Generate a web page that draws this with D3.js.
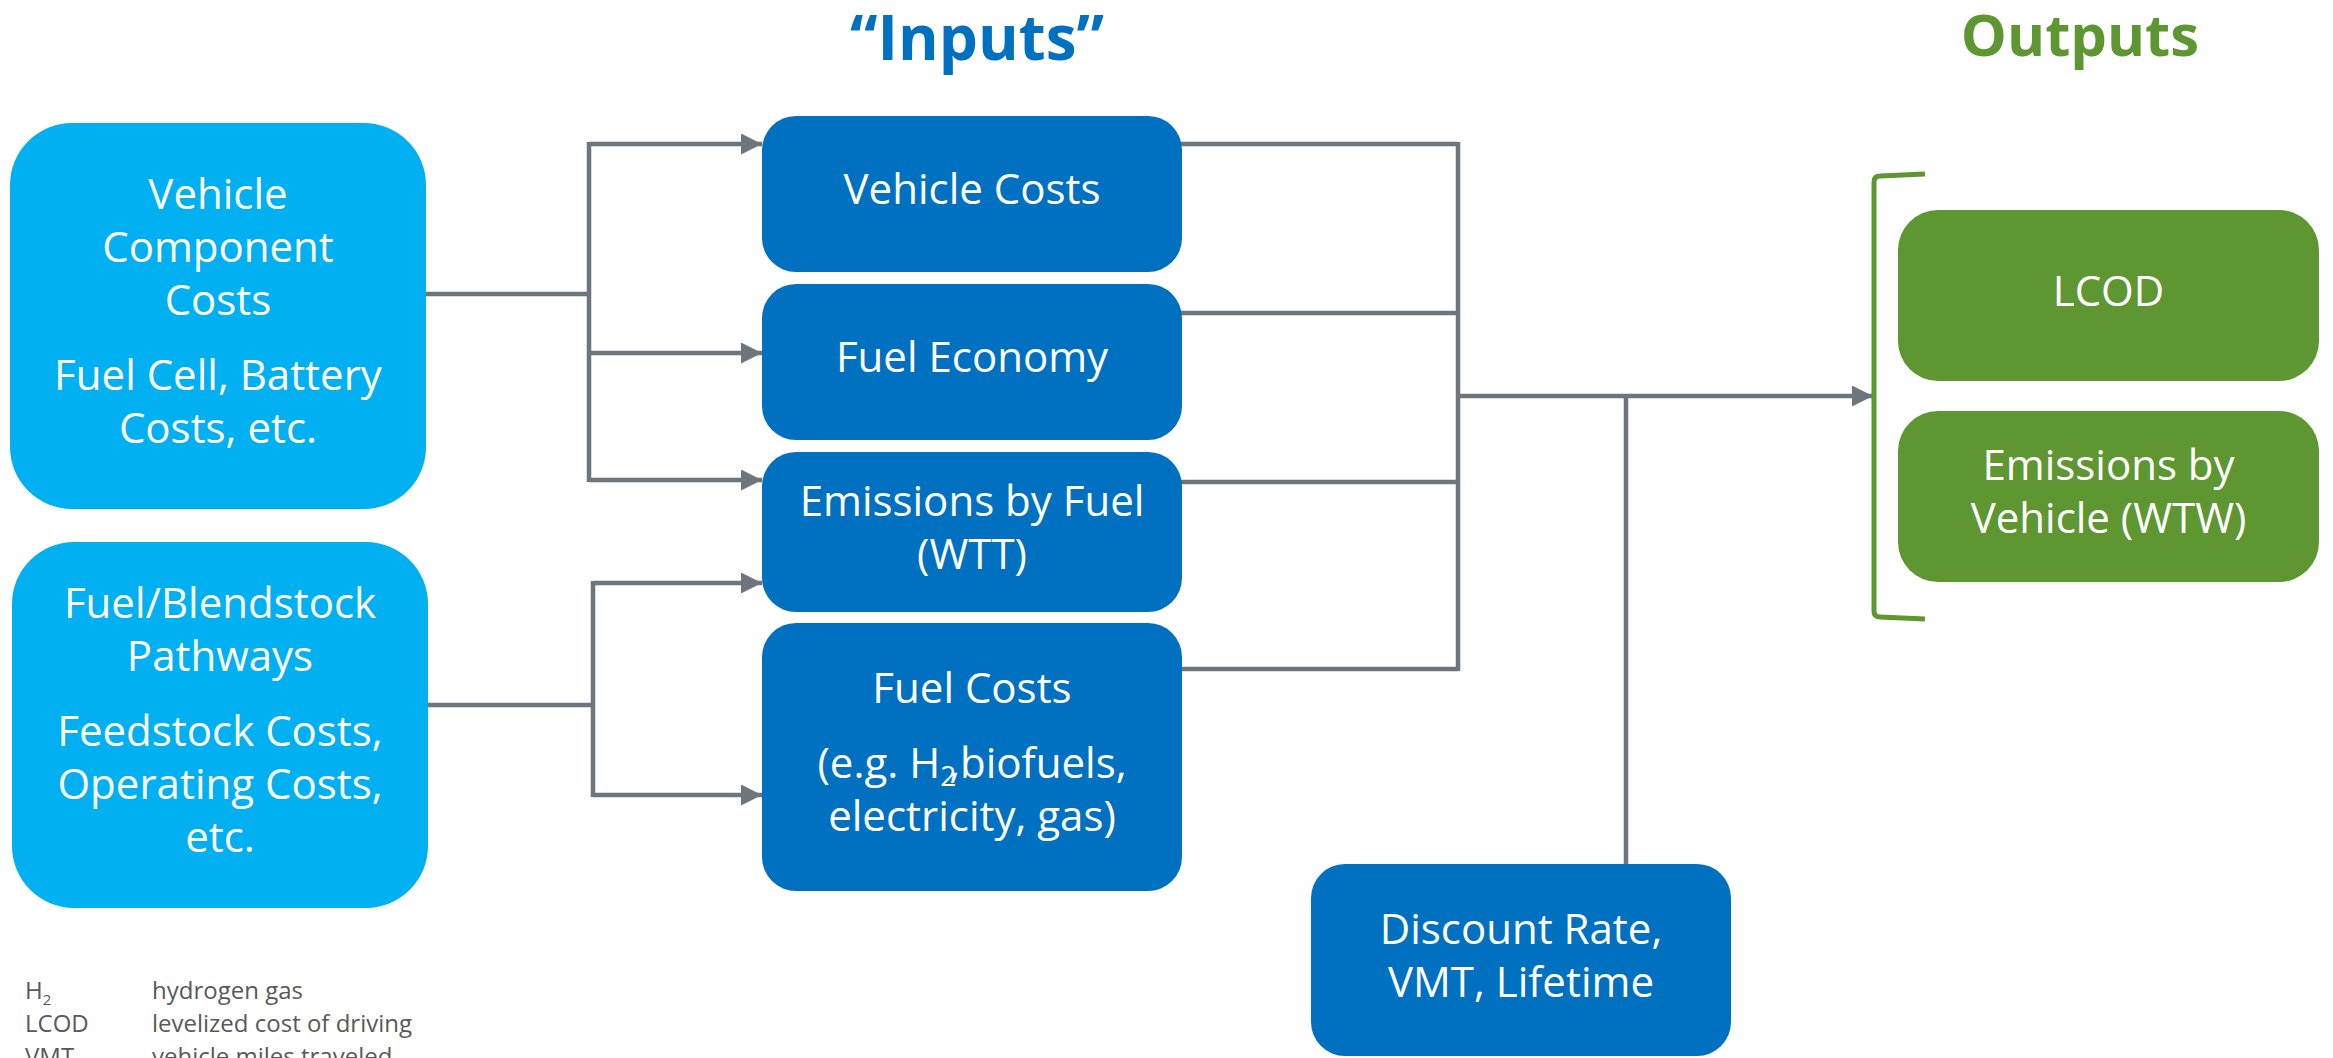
<!DOCTYPE html>
<html>
<head>
<meta charset="utf-8">
<script src="https://cdn.jsdelivr.net/npm/d3@7"></script>
<style>
  html, body { margin: 0; padding: 0; background: #fff; }
  svg { display: block; font-family: "Open Sans", sans-serif; }
</style>
</head>
<body>
<div id="chart"></div>
<script>
// Content of the diagram
const titles = ["\u201CInputs\u201D", "Outputs"];

// each box: paragraphs of lines
const sourceBoxes = [
    { id: "vehicle", paras: [["Vehicle", "Component", "Costs"], ["Fuel Cell, Battery", "Costs, etc."]] },
    { id: "fuel", paras: [["Fuel/Blendstock", "Pathways"], ["Feedstock Costs,", "Operating Costs,", "etc."]] }
];

const inputBoxes = [
    { id: "vcost", paras: [["Vehicle Costs"]] },
    { id: "econ", paras: [["Fuel Economy"]] },
    { id: "wtt", paras: [["Emissions by Fuel", "(WTT)"]] },
    { id: "fcost", paras: [["Fuel Costs"], ["(e.g. H\u2082, biofuels,", "electricity, gas)"]] }
];

const extraBoxes = [
    { id: "disc", paras: [["Discount Rate,", "VMT, Lifetime"]] }
];

const outputBoxes = [
    { id: "lcod", paras: [["LCOD"]] },
    { id: "wtw", paras: [["Emissions by", "Vehicle (WTW)"]] }
];

// which source feeds which input
const sourceLinks = [
    { source: "vehicle", targets: ["vcost", "econ", "wtt"] },
    { source: "fuel", targets: ["wtt", "fcost"] }
];

const abbreviations = ["H\u2082", "LCOD", "VMT"];
const definitions = ["hydrogen gas", "levelized cost of driving", "vehicle miles traveled"];

// Layout
const width = 2333, height = 1058;
const colors = {
    light: "#00B0F0",
    dark: "#0070C0",
    green: "#5E9732",
    line: "#6E757D",
    legend: "#595959"
};

const layout = {
    vehicle: { x: 10, y: 123, w: 416, h: 386, r: 62 },
    fuel: { x: 12, y: 542, w: 416, h: 366, r: 62 },
    vcost: { x: 762, y: 116, w: 420, h: 156, r: 34 },
    econ: { x: 762, y: 284, w: 420, h: 156, r: 34 },
    wtt: { x: 762, y: 452, w: 420, h: 160, r: 34 },
    fcost: { x: 762, y: 623, w: 420, h: 268, r: 34 },
    disc: { x: 1311, y: 864, w: 420, h: 192, r: 34 },
    lcod: { x: 1898, y: 210, w: 421, h: 171, r: 40 },
    wtw: { x: 1898, y: 411, w: 421, h: 171, r: 40 }
};

// where the connector lines hit each box (y)
const inArrowY = { vehicle: 294, fuel: 705, vcost: [144], econ: [353], wtt: [480, 583], fcost: [795] };
const branchX = { vehicle: 589, fuel: 593 };
const outLineY = { vcost: 144, econ: 313, wtt: 482, fcost: 669 };
const collectX = 1458, mainY = 396, discX = 1626, arrowTipX = 1873;

const fontSize = 42, lineH = 53, paraGap = 22, cap = 30;

const svg = d3.select("#chart").append("svg")
    .attr("width", width)
    .attr("height", height);

svg.append("defs").append("marker")
    .attr("id", "arrow")
    .attr("markerUnits", "userSpaceOnUse")
    .attr("viewBox", "0 0 20 20")
    .attr("refX", 20)
    .attr("refY", 10)
    .attr("markerWidth", 21)
    .attr("markerHeight", 21)
    .attr("orient", "auto")
    .append("path")
    .attr("d", "M0,0 L20,10 L0,20 Z")
    .attr("fill", colors.line);

// Connector lines
const lines = svg.append("g")
    .attr("fill", "none")
    .attr("stroke", colors.line)
    .attr("stroke-width", 4.5);

sourceLinks.forEach(link => {
    const b = layout[link.source];
    const y0 = inArrowY[link.source];
    const bx = branchX[link.source];
    const ys = [];
    link.targets.forEach(t => {
        const idx = link.source === "fuel" && t === "wtt" ? 1 : 0;
        ys.push(inArrowY[t][idx]);
    });
    lines.append("line")
        .attr("x1", b.x + b.w).attr("y1", y0)
        .attr("x2", bx).attr("y2", y0);
    lines.append("line")
        .attr("x1", bx).attr("y1", d3.min(ys) - 2)
        .attr("x2", bx).attr("y2", d3.max(ys) + 2);
    link.targets.forEach((t, i) => {
        lines.append("line")
            .attr("x1", bx).attr("y1", ys[i])
            .attr("x2", layout[t].x).attr("y2", ys[i])
            .attr("marker-end", "url(#arrow)");
    });
});

inputBoxes.forEach(box => {
    const b = layout[box.id];
    lines.append("line")
        .attr("x1", b.x + b.w - 5).attr("y1", outLineY[box.id])
        .attr("x2", collectX).attr("y2", outLineY[box.id]);
});
const outYs = Object.values(outLineY);
lines.append("line")
    .attr("x1", collectX).attr("y1", d3.min(outYs) - 2)
    .attr("x2", collectX).attr("y2", d3.max(outYs) + 2);
lines.append("line")
    .attr("x1", collectX).attr("y1", mainY)
    .attr("x2", arrowTipX).attr("y2", mainY)
    .attr("marker-end", "url(#arrow)");
lines.append("line")
    .attr("x1", discX).attr("y1", mainY)
    .attr("x2", discX).attr("y2", layout.disc.y + 2);

// Output bracket
svg.append("path")
    .attr("d", `M1925,174 L1880,176 Q1874,176 1874,182 L1874,611 Q1874,617 1880,617 L1925,619`)
    .attr("fill", "none")
    .attr("stroke", colors.green)
    .attr("stroke-width", 5);

// Boxes
function drawBoxes(data, fill) {
    const g = svg.append("g")
        .selectAll("g")
        .data(data)
        .join("g");

    g.append("rect")
        .attr("x", d => layout[d.id].x)
        .attr("y", d => layout[d.id].y)
        .attr("width", d => layout[d.id].w)
        .attr("height", d => layout[d.id].h)
        .attr("rx", d => layout[d.id].r)
        .attr("fill", fill);

    g.each(function(d) {
        const b = layout[d.id];
        const flat = [];
        d.paras.forEach((p, pi) => p.forEach(line => flat.push({ line, pi })));
        const n = flat.length;
        const blockH = cap + (n - 1) * lineH + (d.paras.length - 1) * paraGap;
        const first = b.y + b.h / 2 - 5 - blockH / 2 + cap;
        const text = d3.select(this).append("text")
            .attr("text-anchor", "middle")
            .attr("fill", "#fff")
            .attr("font-size", fontSize);
        flat.forEach((f, i) => {
            const t = text.append("tspan")
                .attr("x", b.x + b.w / 2)
                .attr("y", first + i * lineH + f.pi * paraGap);
            if (f.line.includes("\u2082")) {
                // subscript 2, comma tucked in against it like the original slide
                const parts = f.line.split("\u2082");
                t.append("tspan").text(parts[0]);
                t.append("tspan").attr("font-size", 28).attr("dy", 8).text("2");
                t.append("tspan").attr("dy", -8).attr("dx", -7).text(parts[1].replace(", ", ","));
            } else {
                t.text(f.line);
            }
        });
    });
}

drawBoxes(sourceBoxes, colors.light);
drawBoxes(inputBoxes, colors.dark);
drawBoxes(extraBoxes, colors.dark);
drawBoxes(outputBoxes, colors.green);

// Titles
svg.append("text")
    .attr("x", 977).attr("y", 60)
    .attr("text-anchor", "middle")
    .attr("font-size", 62)
    .attr("font-weight", 700)
    .attr("fill", colors.dark)
    .text(titles[0]);

svg.append("text")
    .attr("x", 2080).attr("y", 56)
    .attr("text-anchor", "middle")
    .attr("font-size", 58)
    .attr("font-weight", 700)
    .attr("fill", colors.green)
    .text(titles[1]);

// Abbreviation legend
const legend = svg.append("g")
    .attr("font-size", 24)
    .attr("fill", colors.legend);

abbreviations.forEach((a, i) => {
    const y = 999 + i * 33;
    const t = legend.append("text").attr("x", 25).attr("y", y);
    if (a.includes("\u2082")) {
        t.append("tspan").text(a.replace("\u2082", ""));
        t.append("tspan").attr("font-size", 15).attr("dy", 6).text("2");
    } else {
        t.text(a);
    }
    legend.append("text").attr("x", 152).attr("y", y).text(definitions[i]);
});
</script>
</body>
</html>
